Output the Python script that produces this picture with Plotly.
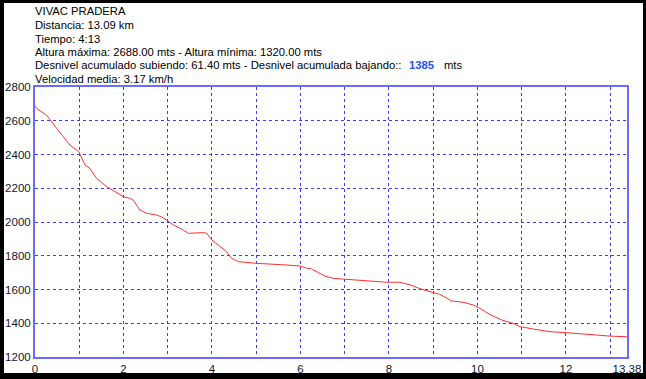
import plotly.graph_objects as go

# Elevation profile (distance km, altitude m)
dist = [0.0, 0.05, 0.26, 0.34, 0.49, 0.64, 0.79, 0.99, 1.13, 1.24, 1.39, 1.62, 2.0, 2.15, 2.22,
        2.37, 2.52, 2.75, 2.86, 2.98, 3.13, 3.28, 3.47, 3.80, 3.88, 4.0, 4.18, 4.33, 4.44, 4.60,
        5.01, 5.46, 5.69, 5.99, 6.14, 6.25, 6.36, 6.55, 6.74, 7.0, 7.42, 7.95, 8.25, 8.48, 8.74,
        8.96, 9.15, 9.42, 9.68, 9.91, 10.06, 10.28, 10.55, 10.81, 10.96, 11.26, 11.64, 12.02,
        12.39, 12.69, 12.99, 13.38]
alt = [2688, 2670, 2634, 2604, 2555, 2505, 2456, 2417, 2338, 2318, 2259, 2209, 2150, 2140, 2130,
       2071, 2052, 2041, 2031, 2010, 1982, 1963, 1933, 1937, 1933, 1893, 1854, 1824, 1785, 1765,
       1755, 1751, 1745, 1739, 1726, 1722, 1706, 1680, 1666, 1662, 1652, 1643, 1643, 1627, 1601,
       1583, 1571, 1532, 1524, 1508, 1488, 1452, 1419, 1399, 1380, 1366, 1350, 1344,
       1334, 1330, 1324, 1320]

x_major = [0, 2, 4, 6, 8, 10, 12, 13.38]
x_major_text = ["0", "2", "4", "6", "8", "10", "12", "13.38"]
x_minor = [1, 3, 5, 7, 9, 11, 13]
y_ticks = [1200, 1400, 1600, 1800, 2000, 2200, 2400, 2600, 2800]

header = [
    "VIVAC PRADERA",
    "Distancia: 13.09 km",
    "Tiempo: 4:13",
    "Altura máxima: 2688.00 mts - Altura mínima: 1320.00 mts",
    "Desnivel acumulado subiendo: 61.40 mts - Desnivel acumulada bajando::",
    "Velocidad media: 3.17 km/h",
]
bajando_value = "1385"
bajando_unit = "mts"

W, H = 646, 379
L, R, T, B = 35, 19, 87, 22
PW, PH = W - L - R, H - T - B


def px_x(px):
    return (px - L) / PW


def px_y(py):
    return (H - B - py) / PH


grid_col = "#3a3aff"
axis_col = "#6b6bff"
txt_col = "#101830"
font_fam = "Liberation Sans, Arial, sans-serif"
hdr_size = 11.25

fig = go.Figure()
fig.add_trace(go.Scatter(x=dist, y=alt, mode="lines",
                         line=dict(color="#ff3030", width=1), hoverinfo="skip"))

fig.update_layout(
    width=W, height=H,
    margin=dict(l=L, r=R, t=T, b=B, pad=0, autoexpand=False),
    paper_bgcolor="black",
    plot_bgcolor="white",
    showlegend=False,
    font=dict(family=font_fam, size=11, color=txt_col),
    xaxis=dict(range=[0, 13.38], tickmode="array", tickvals=x_major, ticktext=x_major_text,
               showgrid=True, gridcolor=grid_col, griddash="dot", gridwidth=1,
               minor=dict(tickmode="array", tickvals=x_minor, showgrid=True,
                          gridcolor=grid_col, griddash="dot", gridwidth=1, ticks=""),
               showline=True, linecolor=axis_col, linewidth=2, mirror=True,
               ticks="", zeroline=False, tickfont=dict(size=11.5, color=txt_col),
               ticklabelstandoff=0, automargin=False),
    yaxis=dict(range=[1200, 2800], tickmode="array", tickvals=y_ticks,
               showgrid=True, gridcolor=grid_col, griddash="dot", gridwidth=1,
               showline=True, linecolor=axis_col, linewidth=2, mirror=True,
               ticks="", zeroline=False, tickfont=dict(size=11.5, color=txt_col),
               ticklabelstandoff=0, automargin=False),
)

# white card over black background
fig.add_shape(type="rect", xref="paper", yref="paper",
              x0=px_x(4), x1=px_x(643), y0=px_y(373), y1=px_y(3),
              fillcolor="white", line=dict(width=0), layer="below")

rows_y = [11.5, 25, 38.5, 52, 65.5, 79]
for txt, yy in zip(header, rows_y):
    fig.add_annotation(text=txt, xref="paper", yref="paper", x=px_x(33), y=px_y(yy),
                       xanchor="left", yanchor="middle", showarrow=False,
                       font=dict(size=hdr_size, color="black", family=font_fam))

fig.add_annotation(text="<b>" + bajando_value + "</b>", xref="paper", yref="paper",
                   x=px_x(407), y=px_y(64.5), xanchor="left", yanchor="middle",
                   showarrow=False, font=dict(size=hdr_size, color="#2255ee", family=font_fam))
fig.add_annotation(text=bajando_unit, xref="paper", yref="paper",
                   x=px_x(442), y=px_y(65.5), xanchor="left", yanchor="middle",
                   showarrow=False, font=dict(size=hdr_size, color="black", family=font_fam))

fig.write_html("out.html", config={"displayModeBar": False},
               post_script="document.body.style.margin='0';document.body.style.padding='0';")
